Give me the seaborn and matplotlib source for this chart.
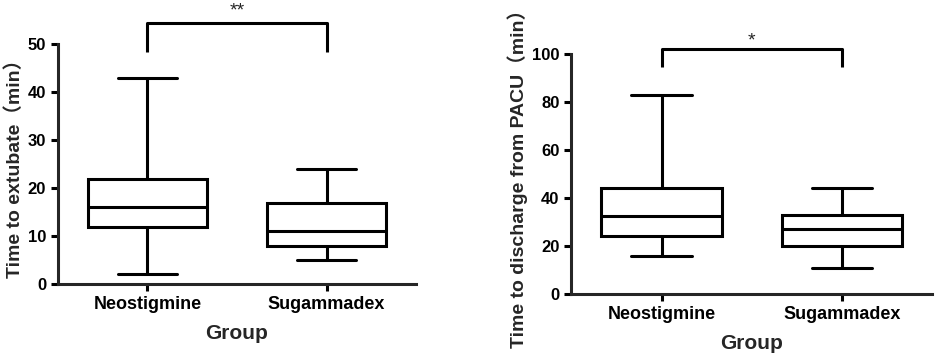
import seaborn as sns
import matplotlib.pyplot as plt
import pandas as pd

groups = ['Neostigmine', 'Sugammadex']
# five-number summaries: min, Q1, median, Q3, max
extubate_neo = [2, 12, 16, 22, 43]
extubate_sug = [5, 8, 11, 17, 24]
pacu_neo = [16, 24, 32.5, 44, 83]
pacu_sug = [11, 20, 27, 33, 44]

df_ext = pd.DataFrame({'Group': [groups[0]] * 5 + [groups[1]] * 5,
                       'value': extubate_neo + extubate_sug})
df_pacu = pd.DataFrame({'Group': [groups[0]] * 5 + [groups[1]] * 5,
                        'value': pacu_neo + pacu_sug})

sns.set_style('ticks')
plt.rcParams['font.family'] = ['Liberation Sans', 'Noto Sans CJK SC']
plt.rcParams['font.weight'] = 'bold'
plt.rcParams['axes.labelweight'] = 'bold'
plt.rcParams['axes.linewidth'] = 2.2
plt.rcParams['xtick.major.width'] = 2.2
plt.rcParams['ytick.major.width'] = 2.2
plt.rcParams['xtick.major.size'] = 5
plt.rcParams['ytick.major.size'] = 5

fig = plt.figure(figsize=(9.35, 3.56), dpi=100)
ax1 = fig.add_axes([0.062, 0.202, 0.383, 0.674])
ax2 = fig.add_axes([0.611, 0.174, 0.386, 0.674])

panels = [
    (ax1, df_ext, 50, 10, 'Time to extubate（min）', '**', 54.4, 48.3, 56.0),
    (ax2, df_pacu, 100, 20, 'Time to discharge from PACU（min）', '*', 102, 94.6, 103.8),
]

for ax, df, ymax, step, ylabel, star, btop, bleg, ystar in panels:
    sns.boxplot(data=df, x='Group', y='value', order=groups, ax=ax,
                whis=(0, 100), width=0.667, color='white', linecolor='black',
                linewidth=2.2, showfliers=False)
    ax.set_xlim(-0.5, 1.5)
    ax.set_ylim(0, ymax)
    ax.set_yticks(range(0, ymax + 1, step))
    ax.tick_params(axis='x', labelsize=13, colors='black')
    ax.tick_params(axis='y', labelsize=12, colors='black')
    for lbl in ax.get_xticklabels() + ax.get_yticklabels():
        lbl.set_fontweight('bold')
    ax.set_xlabel('Group', fontsize=15, labelpad=8)
    ax.set_ylabel(ylabel, fontsize=14, labelpad=3)
    sns.despine(ax=ax)
    # significance bracket
    ax.plot([0, 0, 1, 1], [bleg, btop, btop, bleg], color='black',
            linewidth=2.2, clip_on=False, solid_capstyle='butt')
    ax.text(0.5, ystar, star, ha='center', va='baseline', fontsize=14,
            fontweight='normal', clip_on=False)

fig.savefig('out.png', dpi=100)
